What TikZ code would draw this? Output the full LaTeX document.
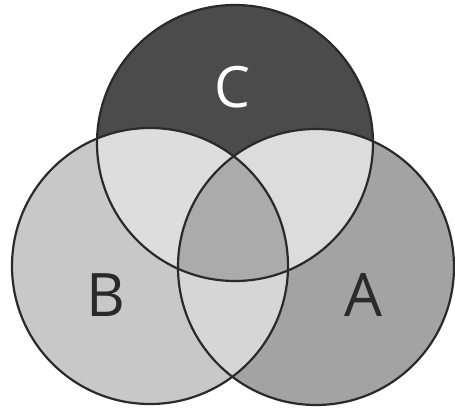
\documentclass[tikz,border=0pt]{standalone}
\usepackage{fontspec}
\setmainfont{Open Sans}
\definecolor{colC}{HTML}{4B4B4B}
\definecolor{colB}{HTML}{C8C8C8}
\definecolor{colA}{HTML}{A3A3A3}
\definecolor{colBC}{HTML}{DDDDDD}
\definecolor{colAC}{HTML}{DCDCDC}
\definecolor{colAB}{HTML}{D6D6D6}
\definecolor{colABC}{HTML}{ABABAB}
\definecolor{edge}{HTML}{2A2A2A}
\begin{document}
\begin{tikzpicture}[x=1pt,y=-1pt,
  ring/.style={draw=edge,line width=2.2pt},
  setlabel/.style={inner sep=0pt,font=\fontsize{60}{64}\selectfont}]
\useasboundingbox (0,0) rectangle (455,409);
\fill[white] (0,0) rectangle (455,409);
\def\rad{138}
\coordinate (cB) at (150,266);
\coordinate (cA) at (316,267);
\coordinate (cC) at (235,143);
% single sets
\fill[colB] (cB) circle (\rad);
\fill[colA] (cA) circle (\rad);
\fill[colC] (cC) circle (\rad);
% pairwise overlaps
\begin{scope}\clip (cB) circle (\rad); \fill[colBC] (cC) circle (\rad);\end{scope}
\begin{scope}\clip (cA) circle (\rad); \fill[colAC] (cC) circle (\rad);\end{scope}
\begin{scope}\clip (cA) circle (\rad); \fill[colAB] (cB) circle (\rad);\end{scope}
% triple overlap
\begin{scope}\clip (cA) circle (\rad); \clip (cB) circle (\rad); \fill[colABC] (cC) circle (\rad);\end{scope}
% outlines
\draw[ring] (cB) circle (\rad);
\draw[ring] (cA) circle (\rad);
\draw[ring] (cC) circle (\rad);
% labels
\node[setlabel,text=white,font=\fontsize{57}{60}\selectfont] (labC) at (232,87) {C};
\node[setlabel,text=edge] (labB) at (106,295) {B};
\node[setlabel,text=edge] (labA) at (363,295) {A};
\end{tikzpicture}
\end{document}
